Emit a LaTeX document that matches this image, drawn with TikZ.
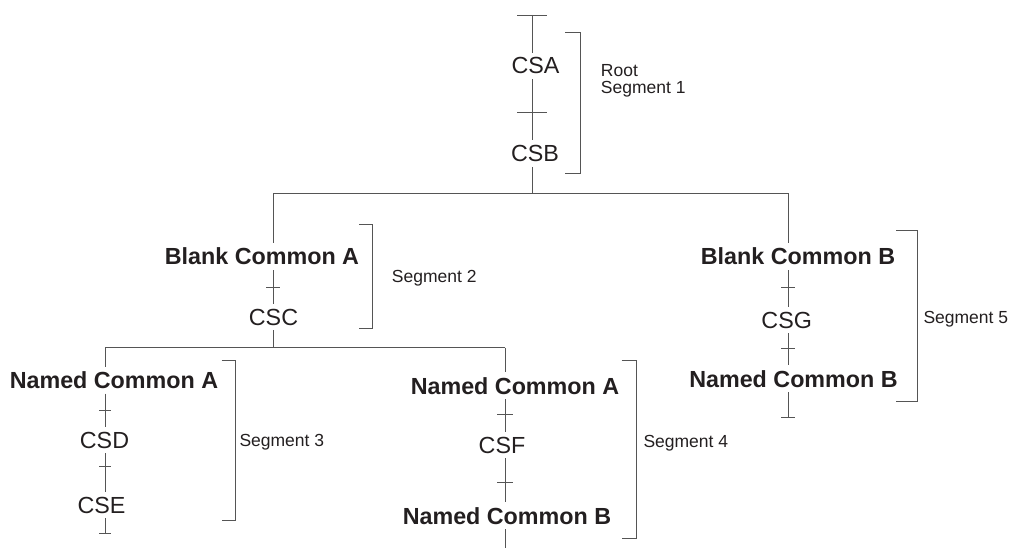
\documentclass[tikz,border=0pt]{standalone}
\usepackage{fontspec}
\setmainfont{Liberation Sans}
\definecolor{lineC}{HTML}{555555}
\definecolor{textC}{HTML}{231F20}
\tikzset{
  lbl/.style={anchor=base, inner xsep=0pt, inner ysep=5pt, outer sep=0pt, text=textC,
              font=\fontsize{23.3}{28}\selectfont},
  blbl/.style={lbl, font=\fontsize{23.3}{28}\selectfont\bfseries},
  seglbl/.style={anchor=base west, inner sep=0pt, text=textC, align=left,
              font=\fontsize{17.5}{16.7}\selectfont},
  conn/.style={draw=lineC, line width=0.95pt},
  brk/.style={draw=lineC, line width=0.95pt},
}
\begin{document}
\begin{tikzpicture}[x=1pt,y=-1pt]
\useasboundingbox (0,0) rectangle (1015,548);

% ---------- text nodes ----------
\node[lbl]  (csa)  at (535.5,74)  {CSA};
\node[lbl]  (csb)  at (535,161.7) {CSB};
\node[blbl] (bca)  at (262,265)   {Blank Common A};
\node[lbl]  (csc)  at (273.5,325) {CSC};
\node[blbl] (nca1) at (114,388.5) {Named Common A};
\node[lbl]  (csd)  at (104.5,448) {CSD};
\node[lbl]  (cse)  at (101.5,513) {CSE};
\node[blbl] (nca2) at (515,394)   {Named Common A};
\node[lbl]  (csf)  at (502,453)   {CSF};
\node[blbl] (ncb2) at (507,524)   {Named Common B};
\node[blbl] (bcb)  at (798,265)   {Blank Common B};
\node[lbl]  (csg)  at (786.7,328) {CSG};
\node[blbl] (ncb3) at (793.5,387) {Named Common B};

\node[seglbl] (s1) at (600.7,93.3) {Root\\Segment 1};
\node[seglbl] (s2) at (391.7,283) {Segment 2};
\node[seglbl] (s3) at (239.3,446) {Segment 3};
\node[seglbl] (s4) at (643.3,447) {Segment 4};
\node[seglbl] (s5) at (923.3,323) {Segment 5};

% ---------- junction coordinates ----------
\coordinate (c0)   at (532,15);
\coordinate (j0)   at (532,193.3);
\coordinate (jL)   at (273.3,193.3);
\coordinate (jR)   at (788.3,193.3);
\coordinate (j1)   at (273.3,347.5);
\coordinate (j1L)  at (105.3,347.5);
\coordinate (j1R)  at (505,347.5);
\coordinate (endL) at (105.3,533.3);
\coordinate (endM) at (505,548);
\coordinate (endR) at (788.3,417.3);

% ---------- connectors ----------
% root segment
\draw[conn] (c0) -- (csa.north -| c0);
\draw[conn] (csa.south -| c0) -- (csb.north -| c0);
\draw[conn] (csb.south -| c0) -- (j0);
\draw[conn] (jL) -- (jR);
% segment 2
\draw[conn] (jL) -- (bca.north -| jL);
\draw[conn] (bca.south -| jL) -- (csc.north -| jL);
\draw[conn] (csc.south -| j1) -- (j1);
\draw[conn] (j1L) -- (j1R);
% segment 3
\draw[conn] (j1L) -- (nca1.north -| j1L);
\draw[conn] (nca1.south -| j1L) -- (csd.north -| j1L);
\draw[conn] (csd.south -| j1L) -- (cse.north -| j1L);
\draw[conn] (cse.south -| j1L) -- (endL);
% segment 4
\draw[conn] (j1R) -- (nca2.north -| j1R);
\draw[conn] (nca2.south -| j1R) -- (csf.north -| j1R);
\draw[conn] (csf.south -| j1R) -- (ncb2.north -| j1R);
\draw[conn] (ncb2.south -| j1R) -- (endM);
% segment 5
\draw[conn] (jR) -- (bcb.north -| jR);
\draw[conn] (bcb.south -| jR) -- (csg.north -| jR);
\draw[conn] (csg.south -| jR) -- (ncb3.north -| jR);
\draw[conn] (ncb3.south -| jR) -- (endR);

% ---------- ticks ----------
\draw[conn] (517,15) -- (547,15);
\draw[conn] (517,112.7) -- (547,112.7);
\draw[conn] (266.3,287.3) -- (280.3,287.3);
\draw[conn] (99.3,410) -- (111.3,410);
\draw[conn] (99.3,466.7) -- (111.3,466.7);
\draw[conn] (99.3,533.3) -- (111.3,533.3);
\draw[conn] (497,414) -- (513,414);
\draw[conn] (497,482.7) -- (513,482.7);
\draw[conn] (781.3,287.3) -- (795.3,287.3);
\draw[conn] (781.3,348.3) -- (795.3,348.3);
\draw[conn] (781.3,417.3) -- (795.3,417.3);

% ---------- brackets ----------
\draw[brk] (565,32.7) -- (580,32.7) -- (580,173.3) -- (565,173.3);
\draw[brk] (359,224.3) -- (372,224.3) -- (372,328.3) -- (359,328.3);
\draw[brk] (221.7,360.7) -- (235,360.7) -- (235,520) -- (221.7,520);
\draw[brk] (621.7,360) -- (636.7,360) -- (636.7,538.3) -- (621.7,538.3);
\draw[brk] (896,230.7) -- (917.3,230.7) -- (917.3,401.7) -- (896,401.7);
\end{tikzpicture}
\end{document}
